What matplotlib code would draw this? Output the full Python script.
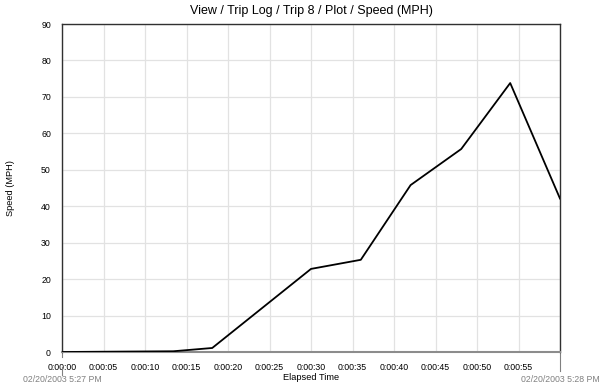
import matplotlib
matplotlib.use("Agg")
import matplotlib.pyplot as plt
import matplotlib.transforms as mtransforms

# Data
elapsed_s = [0, 13.4, 18.1, 30.0, 36.0, 42.0, 48.1, 54.0, 60.0]
speed_mph = [0, 0.2, 1.1, 22.8, 25.3, 45.8, 55.7, 73.8, 42.1]
x_ticks = [0, 5, 10, 15, 20, 25, 30, 35, 40, 45, 50, 55]
x_tick_labels = ["0:00:00", "0:00:05", "0:00:10", "0:00:15", "0:00:20", "0:00:25",
                 "0:00:30", "0:00:35", "0:00:40", "0:00:45", "0:00:50", "0:00:55"]
y_ticks = [0, 10, 20, 30, 40, 50, 60, 70, 80, 90]
start_label = "02/20/2003 5:27 PM"
end_label = "02/20/2003 5:28 PM"
title = "View / Trip Log / Trip 8 / Plot / Speed (MPH)"

plt.rcParams['font.family'] = ['Liberation Sans', 'DejaVu Sans']

fig = plt.figure(figsize=(6, 3.88), dpi=100)
ax = fig.add_axes([62/600, 1 - 352/388, (560-62)/600, (352-24)/388])

ax.plot(elapsed_s, speed_mph, color='black', lw=1.3, zorder=3)

ax.set_xlim(0, 60)
ax.set_ylim(0, 90)
ax.set_xticks(list(range(0, 61, 5)))
ax.set_xticklabels(x_tick_labels + [""])
ax.set_yticks(y_ticks)
ax.tick_params(axis='both', length=0, labelsize=6.3, colors='black')
ax.tick_params(axis='x', pad=8)
ax.tick_params(axis='y', pad=8)
ax.grid(True, color='#e2e2e2', lw=0.9, zorder=0)
ax.set_axisbelow(True)

for s in ['left', 'top', 'right']:
    ax.spines[s].set_color('#303030')
    ax.spines[s].set_linewidth(1.0)
ax.spines['bottom'].set_color('#8c8c8c')
ax.spines['bottom'].set_linewidth(1.5)

ax.set_title(title, fontsize=9, pad=7)
ax.set_xlabel("Elapsed Time", fontsize=6.7, labelpad=1)
ax.set_ylabel("Speed (MPH)", fontsize=6.7, labelpad=19)

# marker lines from axis to date labels
trans = mtransforms.blended_transform_factory(ax.transData, fig.transFigure)
def fy(py):
    return 1 - py / 388
ax.plot([0, 0], [fy(352), fy(357)], color='#808080', lw=0.8, transform=trans, clip_on=False)
ax.plot([0, 0], [fy(367), fy(375)], color='#808080', lw=0.8, transform=trans, clip_on=False)
ax.plot([60, 60], [fy(352), fy(371)], color='#808080', lw=0.8, transform=trans, clip_on=False)
ax.text(0, fy(380), start_label, transform=trans, ha='center', va='center',
        fontsize=6.3, color='#808080')
ax.text(60, fy(380), end_label, transform=trans, ha='center', va='center',
        fontsize=6.3, color='#808080')

fig.savefig("out.png", dpi=100)
